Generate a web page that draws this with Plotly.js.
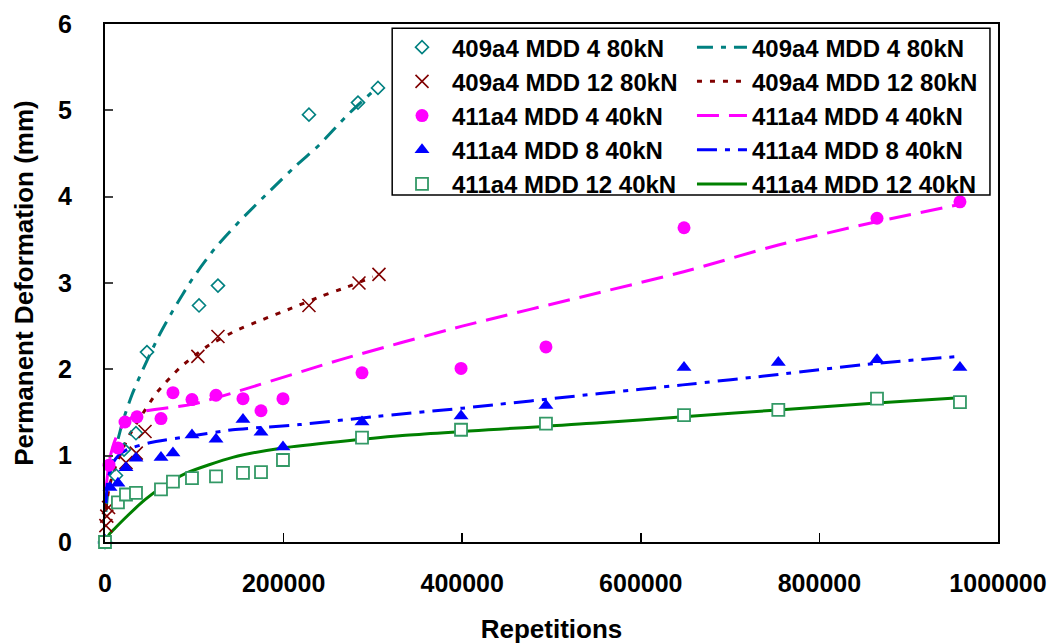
<!DOCTYPE html>
<html>
<head>
<meta charset="utf-8">
<script src="https://cdn.plot.ly/plotly-3.0.1.min.js"></script>
<style>html,body{margin:0;padding:0;background:#fff;}#chart{width:1061px;height:644px;}</style>
</head>
<body>
<div id="chart"></div>
<script>
// ---- measured data (Repetitions, Permanent Deformation mm) ----
var names = ["409a4 MDD 4 80kN", "409a4 MDD 12 80kN", "411a4 MDD 4 40kN", "411a4 MDD 8 40kN", "411a4 MDD 12 40kN"];

var d409md4_x = [0, 12300, 21300, 34700, 47000, 105300, 126500, 228400, 283300, 305700];
var d409md4_y = [0.0, 0.77, 1.07, 1.26, 2.20, 2.74, 2.97, 4.95, 5.09, 5.26];

var d409md12_x = [1000, 2000, 4000, 23500, 35000, 44800, 104000, 126500, 228400, 284400, 306800];
var d409md12_y = [0.19, 0.30, 0.40, 0.92, 1.03, 1.28, 2.15, 2.38, 2.74, 3.00, 3.10];

var d411md4_x = [0, 4500, 14500, 22400, 35800, 62700, 76100, 97400, 124300, 154500, 174700, 199300, 287800, 398700, 493800, 648400, 864500, 957400];
var d411md4_y = [0.0, 0.89, 1.09, 1.39, 1.45, 1.43, 1.73, 1.65, 1.70, 1.66, 1.52, 1.66, 1.96, 2.01, 2.26, 3.64, 3.75, 3.94];

var d411md8_x = [0, 5600, 14500, 23500, 34700, 62700, 76100, 97400, 124300, 154500, 174700, 199300, 287800, 398700, 493800, 648400, 754000, 864500, 957400];
var d411md8_y = [0.02, 0.63, 0.68, 0.86, 0.97, 0.98, 1.03, 1.24, 1.19, 1.42, 1.27, 1.10, 1.39, 1.46, 1.58, 2.02, 2.08, 2.11, 2.02];

var d411md12_x = [0, 14500, 23500, 34700, 62700, 76100, 97400, 124300, 154500, 174700, 199300, 287800, 398700, 493800, 648400, 754000, 864500, 957400];
var d411md12_y = [0.0, 0.46, 0.55, 0.57, 0.61, 0.70, 0.74, 0.76, 0.80, 0.81, 0.95, 1.21, 1.30, 1.37, 1.47, 1.53, 1.66, 1.62];

// ---- trend lines ----
var t409md4_x = [1000, 5000, 10000, 20000, 30000, 42500, 60000, 76000, 98000, 123000, 153000, 184000, 214000, 240000, 270000, 300000];
var t409md4_y = [0.35, 0.75, 1.00, 1.40, 1.70, 2.00, 2.38, 2.68, 3.05, 3.40, 3.74, 4.06, 4.36, 4.60, 4.93, 5.22];

var t409md12_x = [1000, 5000, 12000, 20000, 28000, 40000, 58000, 84000, 115000, 147000, 175000, 207000, 243000, 270000, 300000];
var t409md12_y = [0.38, 0.65, 0.88, 1.08, 1.25, 1.45, 1.73, 2.02, 2.27, 2.45, 2.57, 2.70, 2.85, 2.95, 3.07];

var t411md4_x = [1000, 5000, 12000, 20000, 39000, 100000, 263000, 400000, 554000, 648000, 754000, 864000, 957000];
var t411md4_y = [0.60, 0.95, 1.20, 1.35, 1.50, 1.60, 2.11, 2.50, 2.89, 3.13, 3.44, 3.71, 3.91];

var t411md8_x = [1000, 3000, 8000, 15000, 24600, 50000, 92000, 143000, 218000, 300000, 400000, 554000, 647000, 754000, 864000, 957000];
var t411md8_y = [0.45, 0.70, 0.90, 1.00, 1.07, 1.15, 1.22, 1.30, 1.36, 1.45, 1.55, 1.72, 1.82, 1.94, 2.07, 2.15];

var t411md12_x = [1000, 5600, 11200, 25800, 44800, 61500, 91600, 143000, 199000, 330000, 554000, 648000, 754000, 864000, 957000];
var t411md12_y = [0.03, 0.10, 0.16, 0.31, 0.49, 0.62, 0.80, 0.98, 1.09, 1.23, 1.38, 1.45, 1.53, 1.61, 1.67];

var xTicks = [0, 200000, 400000, 600000, 800000, 1000000];
var xTickText = ["0", "200000", "400000", "600000", "800000", "1000000"];
var yTicks = [0, 1, 2, 3, 4, 5, 6];

// ---- styles ----
var teal = "#008080", brown = "#800000", magenta = "#FF00FF", blue = "#0000FF", sqGreen = "#339966", green = "#008000";
var FONT = "Liberation Sans, Arial, Helvetica, sans-serif";

function pts(x, y, name, marker, i) {
  return {x: x, y: y, name: name, type: "scatter", mode: "markers", marker: marker,
          legend: "legend", legendgroup: "m" + i, cliponaxis: false};
}
function trend(x, y, name, line, i) {
  return {x: x, y: y, name: name, type: "scatter", mode: "lines", line: line,
          legend: "legend2", legendgroup: "l" + i};
}

var traces = [
  trend(t409md4_x, t409md4_y, names[0], {color: teal, width: 3, dash: "16px,8px,5px,8px", shape: "spline", smoothing: 0.6}, 0),
  trend(t409md12_x, t409md12_y, names[1], {color: brown, width: 3, dash: "5px,8px", shape: "spline", smoothing: 0.6}, 1),
  trend(t411md4_x, t411md4_y, names[2], {color: magenta, width: 3, dash: "22px,10px", shape: "spline", smoothing: 0.6}, 2),
  trend(t411md8_x, t411md8_y, names[3], {color: blue, width: 3, dash: "20px,8px,5px,8px", shape: "spline", smoothing: 0.6}, 3),
  trend(t411md12_x, t411md12_y, names[4], {color: green, width: 3, shape: "spline", smoothing: 0.6}, 4),
  pts(d409md4_x, d409md4_y, names[0], {symbol: "diamond-open", size: 10, color: teal, line: {width: 1.6, color: teal}}, 0),
  pts(d409md12_x, d409md12_y, names[1], {symbol: "x-thin-open", size: 13, color: brown, line: {width: 1.6, color: brown}}, 1),
  pts(d411md4_x, d411md4_y, names[2], {symbol: "circle", size: 13, color: magenta}, 2),
  pts(d411md8_x, d411md8_y, names[3], {symbol: "triangle-up", size: 13, color: blue}, 3),
  pts(d411md12_x, d411md12_y, names[4], {symbol: "square", size: 12, color: "#ffffff", line: {width: 1.8, color: sqGreen}}, 4)
];

var legendCommon = {
  orientation: "v", traceorder: "grouped", tracegroupgap: 0,
  bgcolor: "rgba(0,0,0,0)", borderwidth: 0,
  font: {family: FONT, size: 24, color: "#000", weight: "bold"},
  xanchor: "left", yanchor: "top", y: 0.998, itemwidth: 50
};

var layout = {
  width: 1061, height: 644,
  paper_bgcolor: "#ffffff", plot_bgcolor: "#ffffff",
  margin: {l: 105, r: 63, t: 24, b: 102},
  showlegend: true,
  legend: Object.assign({}, legendCommon, {x: 0.3214}),
  legend2: Object.assign({}, legendCommon, {x: 0.6573}),
  xaxis: {
    range: [0, 1000000], tickvals: xTicks, ticktext: xTickText,
    ticks: "inside", ticklen: 9, tickwidth: 1.5, tickcolor: "#000",
    showline: true, linecolor: "#000", linewidth: 2, mirror: true,
    showgrid: false, zeroline: false,
    ticklabelstandoff: 18,
    tickfont: {family: FONT, size: 25, color: "#000", weight: "bold"},
    title: {text: "Repetitions", font: {family: FONT, size: 26, color: "#000", weight: "bold"}, standoff: 28}
  },
  yaxis: {
    range: [0, 6], tickvals: yTicks,
    ticks: "inside", ticklen: 8, tickwidth: 2, tickcolor: "#444",
    showline: true, linecolor: "#000", linewidth: 2, mirror: true,
    showgrid: false, zeroline: false,
    ticklabelstandoff: 26,
    tickfont: {family: FONT, size: 25, color: "#000", weight: "bold"},
    title: {text: "Permanent Deformation (mm)", font: {family: FONT, size: 26, color: "#000", weight: "bold"}, standoff: 17}
  },
  shapes: [{
    type: "rect", xref: "paper", yref: "paper",
    x0: 0.3216, x1: 0.991, y0: 0.670, y1: 0.992,
    line: {color: "#000", width: 1.5}, fillcolor: "rgba(0,0,0,0)", layer: "above"
  }]
};

Plotly.newPlot("chart", traces, layout, {displayModeBar: false, staticPlot: true});
</script>
</body>
</html>
